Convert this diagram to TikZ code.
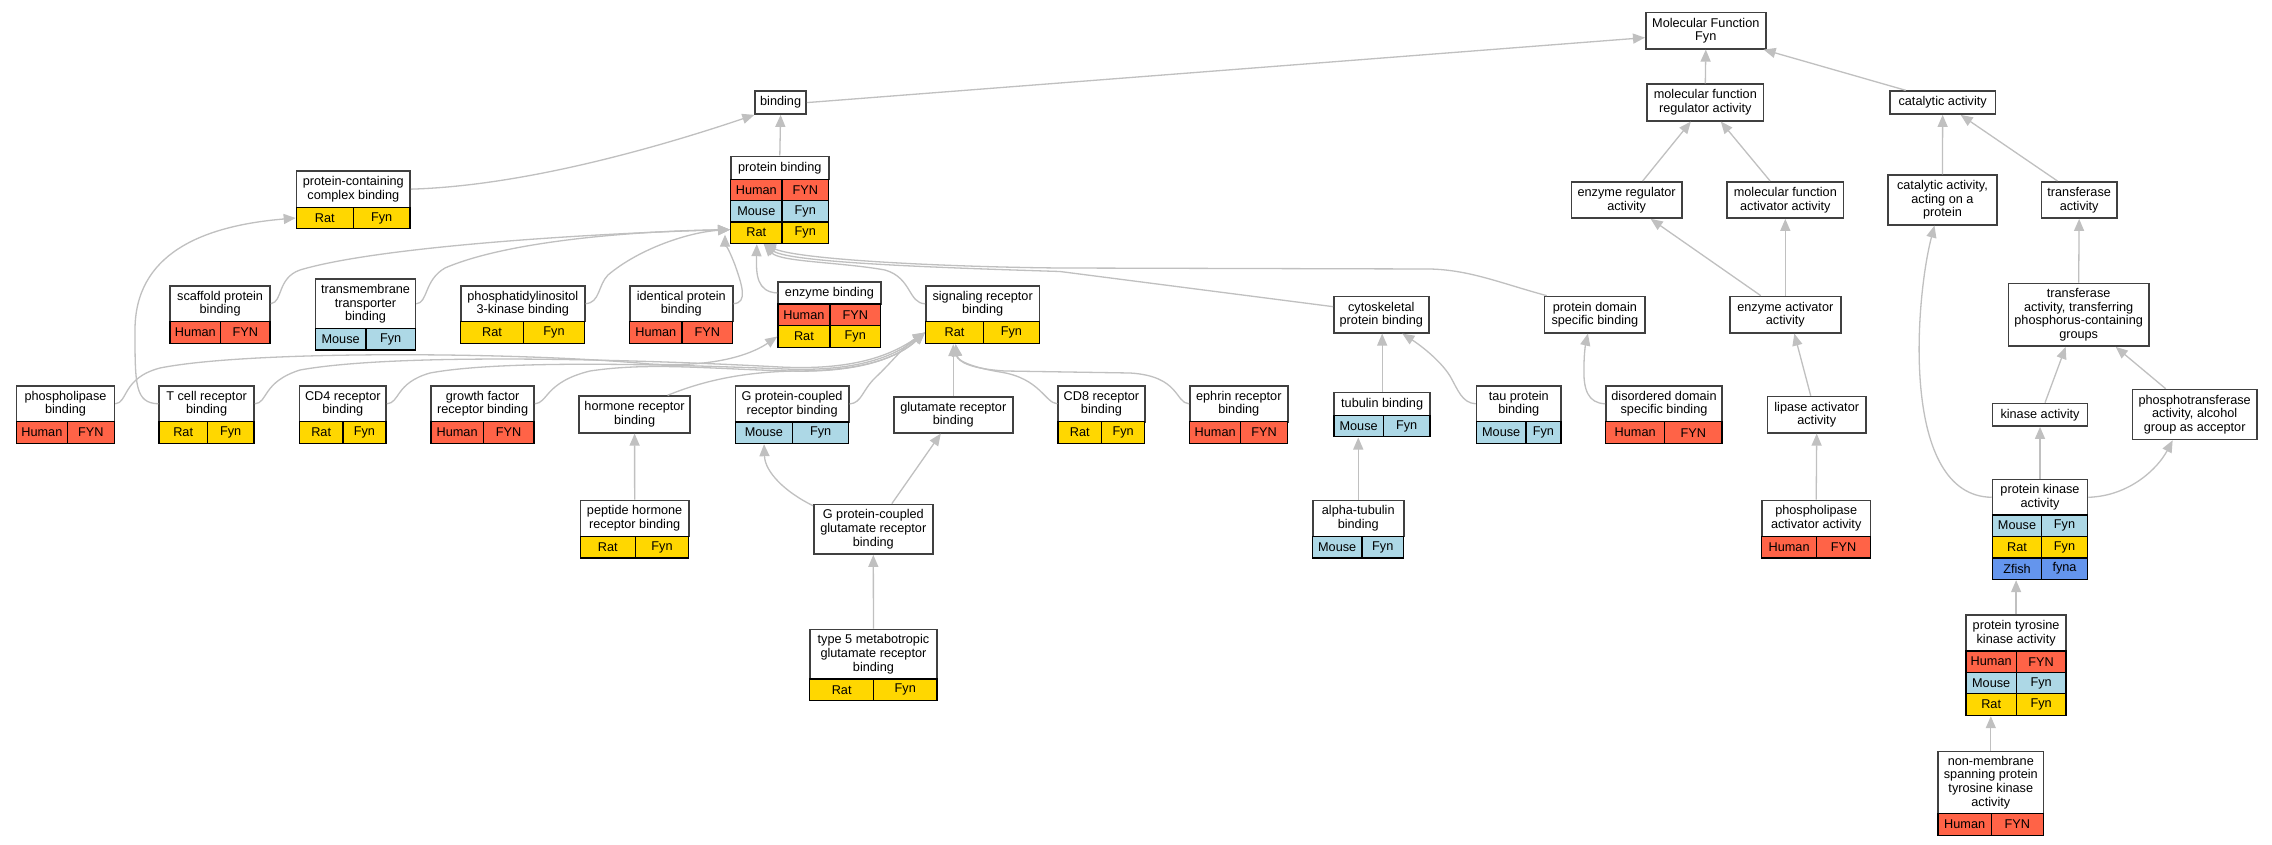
\documentclass[tikz,border=0pt]{standalone}
\usepackage{fontspec}
\setmainfont{Liberation Sans}
\usetikzlibrary{fit,arrows.meta,calc}
\definecolor{human}{HTML}{FF6347}
\definecolor{mouse}{HTML}{ADD8E6}
\definecolor{rat}{HTML}{FFD700}
\definecolor{zfish}{HTML}{6495ED}
\definecolor{edgec}{HTML}{C0C0C0}
\definecolor{boxc}{HTML}{404040}
\newcommand\gofont{\fontsize{12.7}{13.6}\selectfont}
\newcommand\goterm[6]{\node[tbox,anchor=north west,minimum width={#4pt-#2pt},minimum height={#5pt-#3pt}] (#1) at (#2,#3) {#6};}
\newcommand\gocells[9]{%
\node[cbox,fill=#7,anchor=north west,minimum width={#3pt-#2pt},minimum height={#6pt-#5pt}] (#1l) at (#2,#5) {#8};
\node[cbox,fill=#7,anchor=north west,minimum width={#4pt-#3pt},minimum height={#6pt-#5pt}] (#1r) at (#3,#5) {#9};}
\tikzset{
  tbox/.style={draw=boxc,line width=1.6pt,fill=white,inner xsep=1pt,inner ysep=0pt,align=center,font=\gofont,text=black},
  cbox/.style={draw=black,line width=1.3pt,inner sep=0pt,font=\gofont,text=black},
  link/.style={draw=edgec,line width=1.3pt,-{Triangle[length=12pt,width=10pt,fill=edgec]}},
  grp/.style={inner sep=0pt}
}
\begin{document}
\begin{tikzpicture}[x=1pt,y=-1pt]
\fill[white] (0,0) rectangle (2272,845);
\useasboundingbox (0,0) rectangle (2272,845);

% ---- nodes ----
\goterm{MF}{1645}{11.7}{1765}{48}{Molecular Function\\Fyn}
\goterm{binding}{754.3}{90.3}{805.3}{113.3}{binding}
\goterm{mfra}{1646.3}{83.3}{1762.7}{120}{molecular function\\regulator activity}
\goterm{catal}{1889}{90.3}{1994.7}{113.3}{catalytic activity}

\goterm{pcb-t}{295.7}{170}{409.3}{206.7}{protein-containing\\complex binding}
\gocells{pcb-1}{295.7}{352.7}{409.3}{206.7}{228}{rat}{Rat}{Fyn}
\node[grp,fit=(pcb-t)(pcb-1r)] (pcb) {};

\goterm{pb-t}{730}{155.7}{828}{178.7}{protein binding}
\gocells{pb-1}{730}{781.3}{828}{178.7}{199.7}{human}{Human}{FYN}
\gocells{pb-2}{730}{781.3}{828}{199.7}{221.3}{mouse}{Mouse}{Fyn}
\gocells{pb-3}{730}{781.3}{828}{221.3}{242.7}{rat}{Rat}{Fyn}
\node[grp,fit=(pb-t)(pb-3r)] (pb) {};

\goterm{era}{1570.7}{181}{1681}{217.3}{enzyme regulator\\activity}
\goterm{mfaa}{1726.3}{181}{1842.7}{217.3}{molecular function\\activator activity}
\goterm{capr}{1887.3}{174.3}{1996}{224}{catalytic activity,\\acting on a\\protein}
\goterm{tra}{2040.7}{181}{2116}{217.3}{transferase\\activity}

\goterm{scaffold-t}{169.3}{285}{269.3}{320.7}{scaffold protein\\binding}
\gocells{scaffold-1}{169.3}{220}{269.3}{320.7}{342.7}{human}{Human}{FYN}
\node[grp,fit=(scaffold-t)(scaffold-1r)] (scaffold) {};

\goterm{tmt-t}{314.7}{278.3}{414.7}{327.7}{transmembrane\\transporter\\binding}
\gocells{tmt-1}{314.7}{365.3}{414.7}{327.7}{349.3}{mouse}{Mouse}{Fyn}
\node[grp,fit=(tmt-t)(tmt-1r)] (tmt) {};

\goterm{pi3k-t}{460}{285}{584}{320.7}{phosphatidylinositol\\3-kinase binding}
\gocells{pi3k-1}{460}{522.7}{584}{320.7}{342.7}{rat}{Rat}{Fyn}
\node[grp,fit=(pi3k-t)(pi3k-1r)] (pi3k) {};

\goterm{ident-t}{629}{285}{732}{320.7}{identical protein\\binding}
\gocells{ident-1}{629}{681.3}{732}{320.7}{342.7}{human}{Human}{FYN}
\node[grp,fit=(ident-t)(ident-1r)] (ident) {};

\goterm{enzb-t}{777.3}{281}{880}{303.3}{enzyme binding}
\gocells{enzb-1}{777.3}{829.3}{880}{303.3}{325}{human}{Human}{FYN}
\gocells{enzb-2}{777.3}{829.3}{880}{325}{346.7}{rat}{Rat}{Fyn}
\node[grp,fit=(enzb-t)(enzb-2r)] (enzb) {};

\goterm{srb-t}{925}{285}{1038.7}{321}{signaling receptor\\binding}
\gocells{srb-1}{925}{982.7}{1038.7}{321}{342.7}{rat}{Rat}{Fyn}
\node[grp,fit=(srb-t)(srb-1r)] (srb) {};

\goterm{cyto}{1333}{295.7}{1428}{332}{cytoskeletal\\protein binding}
\goterm{pdsb}{1543.8}{295.7}{1644.4}{332}{protein domain\\specific binding}
\goterm{eaa}{1729}{295.7}{1840}{332}{enzyme activator\\activity}
\goterm{trp}{2007.7}{282.7}{2148}{345.3}{transferase\\activity, transferring\\phosphorus-containing\\groups}

\goterm{plb-t}{15.7}{385}{113.7}{421}{phospholipase\\binding}
\gocells{plb-1}{15.7}{66.7}{113.7}{421}{442.7}{human}{Human}{FYN}
\node[grp,fit=(plb-t)(plb-1r)] (plb) {};

\goterm{tcr-t}{158.3}{385}{253.3}{421}{T cell receptor\\binding}
\gocells{tcr-1}{158.3}{206.7}{253.3}{421}{442.7}{rat}{Rat}{Fyn}
\node[grp,fit=(tcr-t)(tcr-1r)] (tcr) {};

\goterm{cd4-t}{298.7}{385}{385.3}{421}{CD4 receptor\\binding}
\gocells{cd4-1}{298.7}{342.3}{385.3}{421}{442.7}{rat}{Rat}{Fyn}
\node[grp,fit=(cd4-t)(cd4-1r)] (cd4) {};

\goterm{gfr-t}{430.3}{385}{533.3}{421}{growth factor\\receptor binding}
\gocells{gfr-1}{430.3}{482.7}{533.3}{421}{442.7}{human}{Human}{FYN}
\node[grp,fit=(gfr-t)(gfr-1r)] (gfr) {};

\goterm{hrb}{578.3}{395.3}{689.3}{432}{hormone receptor\\binding}

\goterm{gpcr-t}{734.5}{385}{848}{421.3}{G protein-coupled\\receptor binding}
\gocells{gpcr-1}{734.5}{792}{848}{421.3}{442.7}{mouse}{Mouse}{Fyn}
\node[grp,fit=(gpcr-t)(gpcr-1r)] (gpcr) {};

\goterm{glu}{893}{396}{1012}{432}{glutamate receptor\\binding}

\goterm{cd8-t}{1057.3}{385}{1144}{421}{CD8 receptor\\binding}
\gocells{cd8-1}{1057.3}{1101}{1144}{421}{442.7}{rat}{Rat}{Fyn}
\node[grp,fit=(cd8-t)(cd8-1r)] (cd8) {};

\goterm{eph-t}{1189}{385}{1287}{421}{ephrin receptor\\binding}
\gocells{eph-1}{1189}{1240}{1287}{421}{442.7}{human}{Human}{FYN}
\node[grp,fit=(eph-t)(eph-1r)] (eph) {};

\goterm{tub-t}{1333.3}{391.7}{1429.4}{415}{tubulin binding}
\gocells{tub-1}{1333.3}{1382.7}{1429.4}{415}{436}{mouse}{Mouse}{Fyn}
\node[grp,fit=(tub-t)(tub-1r)] (tub) {};

\goterm{tau-t}{1475.7}{385}{1560.2}{421}{tau protein\\binding}
\gocells{tau-1}{1475.7}{1525.4}{1560.2}{421}{443}{mouse}{Mouse}{Fyn}
\node[grp,fit=(tau-t)(tau-1r)] (tau) {};

\goterm{ddsb-t}{1605}{385}{1721.4}{421}{disordered domain\\specific binding}
\gocells{ddsb-1}{1605}{1664}{1721.4}{421}{443}{human}{Human}{FYN}
\node[grp,fit=(ddsb-t)(ddsb-1r)] (ddsb) {};

\goterm{laa}{1766.5}{395.7}{1865.3}{432}{lipase activator\\activity}
\goterm{kin}{1991.7}{402.7}{2086.7}{425.3}{kinase activity}
\goterm{pta}{2131.7}{388.7}{2256}{438.7}{phosphotransferase\\activity, alcohol\\group as acceptor}

\goterm{phb-t}{579.7}{499.7}{688}{535.7}{peptide hormone\\receptor binding}
\gocells{phb-1}{579.7}{634.7}{688}{535.7}{557.3}{rat}{Rat}{Fyn}
\node[grp,fit=(phb-t)(phb-1r)] (phb) {};

\goterm{gpcrglu}{813}{503.7}{932}{553.3}{G protein-coupled\\glutamate receptor\\binding}

\goterm{atub-t}{1311.9}{499.7}{1403}{535.7}{alpha-tubulin\\binding}
\gocells{atub-1}{1311.9}{1361.2}{1403}{535.7}{557.3}{mouse}{Mouse}{Fyn}
\node[grp,fit=(atub-t)(atub-1r)] (atub) {};

\goterm{plaa-t}{1761}{499.7}{1869.8}{535.7}{phospholipase\\activator activity}
\gocells{plaa-1}{1761}{1815.9}{1869.8}{535.7}{557.3}{human}{Human}{FYN}
\node[grp,fit=(plaa-t)(plaa-1r)] (plaa) {};

\goterm{pk-t}{1991.7}{478.7}{2086.7}{514.3}{protein kinase\\activity}
\gocells{pk-1}{1991.7}{2041}{2086.7}{514.3}{535.7}{mouse}{Mouse}{Fyn}
\gocells{pk-2}{1991.7}{2041}{2086.7}{535.7}{557.3}{rat}{Rat}{Fyn}
\gocells{pk-3}{1991.7}{2041}{2086.7}{557.3}{578.7}{zfish}{Zfish}{fyna}
\node[grp,fit=(pk-t)(pk-3r)] (pk) {};

\goterm{t5-t}{809}{628.7}{936.3}{678.3}{type 5 metabotropic\\glutamate receptor\\binding}
\gocells{t5-1}{809}{873}{936.3}{678.3}{700}{rat}{Rat}{Fyn}
\node[grp,fit=(t5-t)(t5-1r)] (t5) {};

\goterm{ptk-t}{1965.3}{614.3}{2065.3}{650.3}{protein tyrosine\\kinase activity}
\gocells{ptk-1}{1965.3}{2015.7}{2065.3}{650.3}{671.7}{human}{Human}{FYN}
\gocells{ptk-2}{1965.3}{2015.7}{2065.3}{671.7}{693}{mouse}{Mouse}{Fyn}
\gocells{ptk-3}{1965.3}{2015.7}{2065.3}{693}{714.7}{rat}{Rat}{Fyn}
\node[grp,fit=(ptk-t)(ptk-3r)] (ptk) {};

\goterm{nm-t}{1937.3}{750.7}{2042.7}{812.7}{non-membrane\\spanning protein\\tyrosine kinase\\activity}
\gocells{nm-1}{1937.3}{1990.7}{2042.7}{812.7}{834.7}{human}{Human}{FYN}
\node[grp,fit=(nm-t)(nm-1r)] (nm) {};

% ---- connectors ----
\draw[link] (binding.east) -- ([yshift=-7pt]MF.west);
\draw[link] (mfra.north) -- (MF.south);
\draw[link] ([xshift=-37pt]catal.north) -- ([xshift=-3pt]MF.south east);
\draw[link] (pb.north) -- (binding.south);
\draw[link] (pcb-t.east) .. controls (520,186) and (650,150) .. (binding.south west);
\draw[link] ([xshift=16pt]era.north) -- ([xshift=-14.5pt]mfra.south);
\draw[link] ([xshift=-15.2pt]mfaa.north) -- ([xshift=15.5pt]mfra.south);
\draw[link] (capr.north) -- (catal.south);
\draw[link] ([xshift=-21.7pt]tra.north) -- ([xshift=18pt]catal.south);
\draw[link] ([xshift=-24.5pt]eaa.north) -- ([xshift=24pt]era.south);
\draw[link] (eaa.north) -- (mfaa.south);
\draw[link] (trp.north) -- (tra.south);
\draw[link] ([xshift=5pt]kin.north) -- ([xshift=-13pt]trp.south);
\draw[link] ([xshift=-29pt]pta.north) -- ([xshift=37pt]trp.south);
\draw[link] (pk.north) -- (kin.south);
\draw[link] (pk-t.east) .. controls (2130,496) and (2158,468) .. ([xshift=-22pt]pta.south);
\draw[link] (pk-t.west) .. controls (1900,496) and (1915,300) .. ([xshift=-8pt]capr.south);
\draw[link] (ptk.north) -- (ptk.north |- pk.south);
\draw[link] (nm.north) -- (nm.north |- ptk.south);
\draw[link] ([xshift=-6pt]laa.north) -- ([xshift=9pt]eaa.south);
\draw[link] (plaa.north) -- (laa.south);

% into protein binding
\draw[link] ([yshift=8pt]cyto.west) -- (1060,271.5) .. controls (950,268) and (790,263) .. ([xshift=-16pt]pb.south);
\draw[link] ([xshift=3pt]pdsb.north west) .. controls (1500,283) and (1470,270) .. (1430,269) -- (1060,268) .. controls (950,267) and (800,260) .. ([xshift=-16pt]pb.south);
\draw[link] (srb-t.west) .. controls (908,303) and (912,278) .. (885,270) .. controls (840,262) and (780,262) .. ([xshift=-16pt]pb.south);
\draw[link] (enzb-t.west) .. controls (757,292) and (756,275) .. ([xshift=-23pt]pb.south);
\draw[link] (scaffold-t.east) .. controls (283,302) and (277,278) .. (300,270) .. controls (380,246) and (600,233) .. ([yshift=3pt]pb-3l.west);
\draw[link] (tmt-t.east) .. controls (428,303) and (424,280) .. (445,268) .. controls (510,240) and (640,231) .. ([yshift=3pt]pb-3l.west);
\draw[link] (pi3k-t.east) .. controls (600,303) and (598,285) .. (608,275) .. controls (640,248) and (690,232) .. ([yshift=3pt]pb-3l.west);
\draw[link] (ident-t.east) .. controls (748,303) and (742,285) .. (735,265) .. controls (730,252) and (725,242) .. ([xshift=-5pt,yshift=-2pt]pb-3l.west);

% into protein-containing complex binding
\draw[link] (tcr-t.west) .. controls (135,403) and (135,385) .. (135,330) .. controls (135,255) and (200,226) .. (pcb-1l.west);

% into enzyme binding
\draw[link] (plb-t.east) .. controls (128,403) and (122,378) .. (160,368) .. controls (250,350) and (520,352) .. (650,364) .. controls (720,368) and (755,352) .. (enzb-2l.west);

% into signaling receptor binding
\draw[link] (tcr-t.east) .. controls (268,403) and (262,382) .. (300,370) .. controls (400,352) and (650,360) .. (780,367) .. controls (860,371) and (895,352) .. (srb-1l.west);
\draw[link] (cd4-t.east) .. controls (400,403) and (395,383) .. (430,373) .. controls (500,360) and (660,364) .. (785,369) .. controls (862,372) and (897,354) .. (srb-1l.west);
\draw[link] (gfr-t.east) .. controls (548,403) and (545,382) .. (590,371) .. controls (650,362) and (710,369) .. (790,371) .. controls (864,373) and (899,356) .. (srb-1l.west);
\draw[link] ([xshift=33pt]hrb.north) .. controls (705,380) and (745,372) .. (795,371) .. controls (866,371) and (900,356) .. (srb-1l.west);
\draw[link] (gpcr-t.east) .. controls (862,403) and (862,390) .. (876,377) .. controls (890,364) and (905,345) .. (srb-1l.west);
\draw[link] (glu.north) -- (glu.north |- srb.south);
\draw[link] (cd8-t.west) .. controls (1045,403) and (1040,378) .. (1000,372) .. controls (970,367) and (957,360) .. ([xshift=-27pt]srb.south);
\draw[link] (eph-t.west) .. controls (1175,403) and (1180,376) .. (1130,373) -- (1005,371) .. controls (972,369) and (958,362) .. ([xshift=-27pt]srb.south);

% lower ones
\draw[link] (tub.north) -- (tub.north |- cyto.south);
\draw[link] (tau-t.west) .. controls (1462,403) and (1458,390) .. (1450,376) .. controls (1440,360) and (1420,345) .. ([xshift=21pt]cyto.south);
\draw[link] (atub.north) -- (atub.north |- tub.south);
\draw[link] (ddsb-t.west) .. controls (1588,403) and (1583,390) .. (1584,366) .. controls (1584,352) and (1586,342) .. ([xshift=-7pt]pdsb.south);
\draw[link] (phb.north) -- (hrb.south);
\draw[link] ([yshift=-2pt]gpcrglu.north west) .. controls (785,492) and (765,472) .. ([xshift=-28pt]gpcr.south);
\draw[link] ([xshift=18.5pt]gpcrglu.north) -- ([xshift=-12.5pt]glu.south);
\draw[link] (t5.north) -- (gpcrglu.south);
\end{tikzpicture}
\end{document}
